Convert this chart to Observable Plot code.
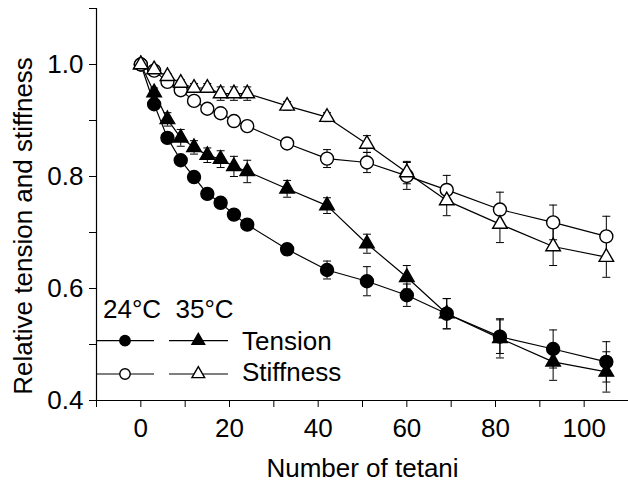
<!DOCTYPE html>
<html><head><meta charset="utf-8">
<script src="https://cdn.jsdelivr.net/npm/d3@7"></script>
<script src="https://cdn.jsdelivr.net/npm/@observablehq/plot@0.6"></script>
<style>
body{margin:0;background:#fff;}
#chart{width:628px;height:482px;}
#chart svg{display:block;}
</style></head><body><div id="chart"></div>
<script>
const tetani = [0,3,6,9,12,15,18,21,24,33,42,51,60,69,81,93,105];
const tension24 = [1.0,0.929,0.869,0.829,0.799,0.769,0.753,0.732,0.714,0.670,0.633,0.613,0.588,0.555,0.514,0.492,0.469];
const tension24Err = [0,0.005,0.005,0.006,0.006,0.006,0.007,0.007,0.008,0.01,0.016,0.026,0.02,0.027,0.03,0.034,0.036];
const tension35 = [1.0,0.95,0.902,0.869,0.852,0.838,0.831,0.818,0.809,0.778,0.748,0.680,0.620,0.555,0.511,0.469,0.451];
const tension35Err = [0,0.008,0.012,0.015,0.012,0.013,0.015,0.018,0.02,0.015,0.014,0.017,0.021,0.027,0.035,0.033,0.036];
const stiffness24 = [1.0,0.989,0.969,0.954,0.935,0.921,0.913,0.899,0.890,0.859,0.832,0.825,0.801,0.776,0.741,0.718,0.693];
const stiffness24Err = [0,0.004,0.005,0.006,0.006,0.006,0.006,0.006,0.007,0.008,0.016,0.018,0.024,0.026,0.031,0.031,0.036];
const stiffness35 = [1.0,0.991,0.979,0.967,0.958,0.958,0.948,0.948,0.948,0.926,0.906,0.858,0.807,0.757,0.715,0.675,0.656];
const stiffness35Err = [0,0.004,0.005,0.006,0.008,0.008,0.012,0.012,0.012,0.008,0.008,0.015,0.02,0.027,0.033,0.034,0.036];

const xMajorTicks = [0,20,40,60,80,100];
const xMinorTicks = [-10,10,30,50,70,90,110];
const yMajorTicks = [0.4,0.6,0.8,1.0];
const yMinorTicks = [0.5,0.7,0.9,1.1];
const xTitle = "Number of tetani";
const yTitle = "Relative tension and stiffness";
const legendTemps = ["24°C","35°C"];
const legendNames = ["Tension","Stiffness"];

const series = [
  {key:"t24", values:tension24, errors:tension24Err, symbol:"circle", fill:"black"},
  {key:"t35", values:tension35, errors:tension35Err, symbol:"triangle", fill:"black"},
  {key:"s24", values:stiffness24, errors:stiffness24Err, symbol:"circle", fill:"white"},
  {key:"s35", values:stiffness35, errors:stiffness35Err, symbol:"triangle", fill:"white"}
];
const rows = series.flatMap(s => tetani.map((t,i) => ({series:s.key, x:t, y:s.values[i], err:s.errors[i], symbol:s.symbol, fill:s.fill})));
const errRows = rows.filter(d => d.err > 0);
const capHalf = 0.9;

const font = "'Liberation Sans', Arial, sans-serif";
const marks = [
  Plot.line(rows, {x:"x", y:"y", z:"series", stroke:"black", strokeWidth:1.2}),
  Plot.ruleX(errRows, {x:"x", y1:d=>d.y-d.err, y2:d=>d.y+d.err, stroke:"black", strokeWidth:1}),
  Plot.link(errRows, {x1:d=>d.x-capHalf, x2:d=>d.x+capHalf, y1:d=>d.y+d.err, y2:d=>d.y+d.err, stroke:"black", strokeWidth:1}),
  Plot.link(errRows, {x1:d=>d.x-capHalf, x2:d=>d.x+capHalf, y1:d=>d.y-d.err, y2:d=>d.y-d.err, stroke:"black", strokeWidth:1}),
];
for (const s of series) {
  const data = rows.filter(d => d.series === s.key);
  marks.push(Plot.dot(data, {x:"x", y:"y", symbol:s.symbol, fill:s.fill, stroke:"black", strokeWidth:1.4, r: s.symbol === "circle" ? 6.5 : 5.4}));
}
marks.push(
  Plot.ruleY([0.4], {stroke:"black", strokeWidth:1.2}),
  Plot.ruleX([-10], {stroke:"black", strokeWidth:1.2}),
  Plot.axisX(xMajorTicks, {tickSize:7, tickPadding:11, fontSize:26, label:null}),
  Plot.axisX(xMinorTicks, {tickSize:7, tickFormat:()=>"", label:null}),
  Plot.axisY(yMajorTicks, {tickSize:7, tickPadding:6, fontSize:26, label:null, tickFormat:d3.format(".1f")}),
  Plot.axisY(yMinorTicks, {tickSize:7, tickFormat:()=>"", label:null}),
  Plot.text([xTitle], {frameAnchor:"bottom", textAnchor:"middle", lineAnchor:"bottom", dy:76, fontSize:26}),
  Plot.text([yTitle], {frameAnchor:"left", textAnchor:"middle", rotate:-90, dx:-72.6, dy:21.5, fontSize:26})
);

const plot = Plot.plot({
  width:628, height:482,
  marginLeft:96, marginRight:0, marginTop:8, marginBottom:82,
  x:{domain:[-10,110]},
  y:{domain:[0.4,1.1]},
  style:{fontFamily:font, fontSize:"26px", color:"black", background:"white", overflow:"visible"},
  marks
});
document.getElementById("chart").appendChild(plot);

// in-plot legend
const svg = d3.select(plot);
const g = svg.append("g").attr("font-family", font).attr("font-size", 26).attr("fill","black").attr("text-anchor","start");
g.append("text").attr("x",103).attr("y",317.7).text(legendTemps[0]);
g.append("text").attr("x",175.5).attr("y",317.7).text(legendTemps[1]);
const rowsY = [340.7, 374];
const textBase = [350, 381];
const fills = ["black","white"];
rowsY.forEach((yy, i) => {
  g.append("line").attr("x1",96).attr("x2",154).attr("y1",yy).attr("y2",yy).attr("stroke","black").attr("stroke-width",1.2);
  g.append("line").attr("x1",169).attr("x2",228).attr("y1",yy).attr("y2",yy).attr("stroke","black").attr("stroke-width",1.2);
  g.append("circle").attr("cx",125).attr("cy",yy).attr("r",5.2).attr("fill",fills[i]).attr("stroke","black").attr("stroke-width",1.4);
  g.append("path").attr("d", d3.symbol(d3.symbolTriangle, 70)()).attr("transform",`translate(198.3,${yy})`).attr("fill",fills[i]).attr("stroke","black").attr("stroke-width",1.4);
  g.append("text").attr("x",242).attr("y",textBase[i]).text(legendNames[i]);
});
</script></body></html>
